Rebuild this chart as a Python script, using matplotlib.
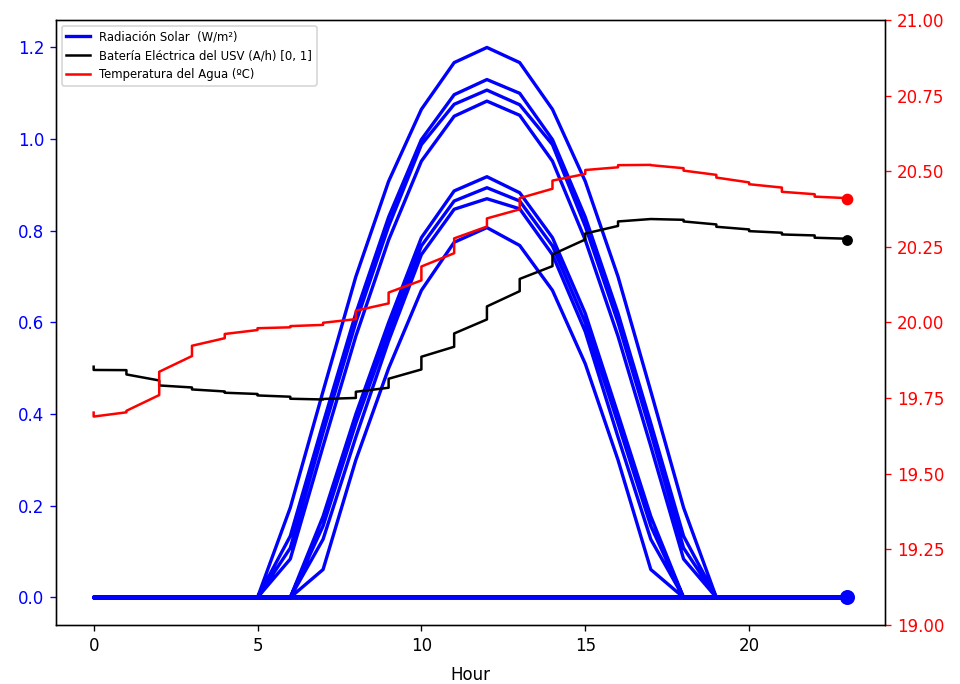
import matplotlib
matplotlib.use("Agg")
import matplotlib.pyplot as plt
import numpy as np

hours = list(range(24))

# Solar radiation, one list per day (hours 0..23)
rad_day1 = [0, 0, 0, 0, 0, 0, 0.196, 0.45, 0.70, 0.908, 1.065, 1.167, 1.200, 1.167, 1.065, 0.908, 0.70, 0.45, 0.196, 0, 0, 0, 0, 0]
rad_day2 = [0, 0, 0, 0, 0, 0, 0, 0.177, 0.40, 0.60, 0.785, 0.887, 0.918, 0.883, 0.785, 0.62, 0.40, 0.177, 0, 0, 0, 0, 0, 0]
rad_day3 = [0, 0, 0, 0, 0, 0, 0.134, 0.38, 0.62, 0.83, 0.999, 1.097, 1.130, 1.100, 0.999, 0.83, 0.62, 0.38, 0.134, 0, 0, 0, 0, 0]
rad_day4 = [0, 0, 0, 0, 0, 0, 0, 0.156, 0.38, 0.58, 0.767, 0.865, 0.894, 0.865, 0.767, 0.60, 0.38, 0.156, 0, 0, 0, 0, 0, 0]
rad_day5 = [0, 0, 0, 0, 0, 0, 0.108, 0.36, 0.60, 0.81, 0.988, 1.076, 1.107, 1.075, 0.988, 0.81, 0.60, 0.36, 0.108, 0, 0, 0, 0, 0]
rad_day6 = [0, 0, 0, 0, 0, 0, 0, 0.127, 0.35, 0.56, 0.748, 0.847, 0.870, 0.848, 0.748, 0.58, 0.35, 0.127, 0, 0, 0, 0, 0, 0]
rad_day7 = [0, 0, 0, 0, 0, 0, 0.084, 0.33, 0.57, 0.78, 0.952, 1.050, 1.083, 1.052, 0.952, 0.78, 0.57, 0.33, 0.084, 0, 0, 0, 0, 0]
rad_day8 = [0, 0, 0, 0, 0, 0, 0, 0.061, 0.30, 0.50, 0.670, 0.775, 0.807, 0.768, 0.670, 0.51, 0.30, 0.061, 0, 0, 0, 0, 0, 0]

# Battery (first and last reading in each hour)
bat_first = [0.5035, 0.496, 0.4735, 0.4582, 0.4495, 0.444, 0.438, 0.432, 0.4353, 0.4576, 0.4975, 0.547,
             0.6066, 0.6683, 0.7229, 0.781, 0.8106, 0.8257, 0.824, 0.8139, 0.803, 0.7958, 0.7899, 0.7827]
bat_last = [0.4964, 0.4866, 0.4626, 0.4539, 0.4467, 0.4408, 0.4336, 0.4331, 0.4488, 0.4772, 0.5252, 0.576,
            0.635, 0.695, 0.7484, 0.794, 0.8204, 0.8257, 0.8204, 0.8088, 0.7993, 0.792, 0.7849, 0.780]

# Water temperature (first and last reading in each hour)
temp_first = [19.702, 19.703, 19.760, 19.889, 19.948, 19.975, 19.984, 19.992, 20.011, 20.063, 20.139, 20.229,
              20.317, 20.374, 20.442, 20.491, 20.513, 20.521, 20.510, 20.488, 20.463, 20.446, 20.424, 20.411]
temp_last = [19.689, 19.708, 19.837, 19.923, 19.962, 19.981, 19.988, 19.999, 20.039, 20.099, 20.185, 20.278,
             20.344, 20.411, 20.469, 20.504, 20.520, 20.520, 20.502, 20.479, 20.457, 20.432, 20.416, 20.407]

rad_days = [rad_day1, rad_day2, rad_day3, rad_day4, rad_day5, rad_day6, rad_day7, rad_day8]
x_rad = hours * len(rad_days)
y_rad = [v for d in rad_days for v in d]

x_step = [h for h in hours for _ in (0, 1)]
y_bat = [v for pair in zip(bat_first, bat_last) for v in pair]
y_temp = [v for pair in zip(temp_first, temp_last) for v in pair]

fig = plt.figure(figsize=(8, 5.7), dpi=120)
ax1 = fig.add_axes([0.0583, 0.0863, 0.922 - 0.0583, 0.9708 - 0.0863])
ax2 = ax1.twinx()

l1, = ax1.plot(x_rad, y_rad, color='blue', lw=2, label='Radiación Solar  (W/m²)')
ax1.plot(x_rad[-1], y_rad[-1], 'o', color='blue', ms=8)
l2, = ax1.plot(x_step, y_bat, color='black', lw=1.5, label='Batería Eléctrica del USV (A/h) [0, 1]')
ax1.plot(x_step[-1], y_bat[-1], 'o', color='black', ms=5.5)
l3, = ax2.plot(x_step, y_temp, color='red', lw=1.5, label='Temperatura del Agua (ºC)')
ax2.plot(x_step[-1], y_temp[-1], 'o', color='red', ms=6)

ax2.set_ylim(19.0, 21.0)
ax2.set_yticks(np.arange(19.0, 21.01, 0.25))
ax2.yaxis.set_major_formatter(matplotlib.ticker.FormatStrFormatter('%.2f'))
ax1.tick_params(axis='y', colors='blue')
ax2.tick_params(axis='y', colors='red')
ax1.set_xlabel('Hour', labelpad=7)

ax1.legend([l1, l2, l3], [l1.get_label(), l2.get_label(), l3.get_label()],
           loc='upper left', fontsize=7)

fig.savefig('out.png', dpi=120)
